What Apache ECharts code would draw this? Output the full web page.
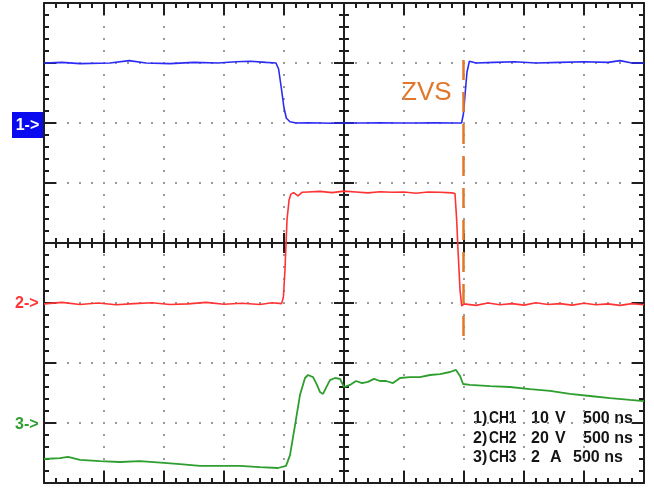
<!DOCTYPE html>
<html>
<head>
<meta charset="utf-8">
<script src="https://cdn.jsdelivr.net/npm/echarts@6/dist/echarts.min.js"></script>
<style>
  html, body { margin: 0; padding: 0; background: #fff; }
  #chart { width: 654px; height: 488px; }
</style>
</head>
<body>
<div id="chart"></div>
<script>
// Time base: 500 ns per division, 10 divisions across the screen
const timeTicks = [-2500, -2000, -1500, -1000, -500, 0, 500, 1000, 1500, 2000, 2500];

// Channel scales (units per division) and trace offsets (divisions from centre)
const channelNames = ['CH1', 'CH2', 'CH3'];
const channelScale = [10, 20, 2];
const channelUnit = ['V', 'V', 'A'];
const channelOffset = [2, -1, -3];
const timePerDiv = 500;

// CH1: gate-side voltage (V)
const ch1Time = [-2500, -2350, -2200, -1950, -1790, -1650, -1450, -1250, -1050, -900, -780, -650,
  -567, -545, -520, -500, -480, -450, -400, -300, -200, -100, 0, 150, 300, 450, 600, 750, 900, 980,
  995, 1010, 1025, 1045, 1060, 1100, 1250, 1420, 1600, 1800, 2000, 2200, 2300, 2400, 2500];
const ch1Volts = [10.0, 10.1, 9.9, 10.0, 10.4, 10.0, 9.9, 10.1, 10.0, 10.2, 10.3, 10.1,
  10.0, 9.0, 5.5, 2.5, 0.8, 0.2, 0.0, 0.05, 0.0, -0.05, 0.0, 0.0, 0.05, 0.0, 0.0, 0.05, 0.0, 0.0,
  1.5, 5.0, 8.5, 10.3, 10.2, 10.0, 10.1, 10.2, 10.0, 10.1, 10.2, 10.1, 10.4, 10.0, 10.0];

// CH2: switch-node voltage (V)
const ch2Time = [-2500, -2350, -2200, -2050, -1900, -1750, -1600, -1450, -1300, -1150, -1000, -850,
  -700, -600, -520, -505, -492, -475, -458, -442, -420, -383, -350, -300, -200, -100, 0, 100, 200,
  300, 400, 500, 600, 700, 800, 900, 925, 939, 950, 967, 981, 1000, 1100, 1200, 1300, 1400, 1500,
  1600, 1700, 1800, 1900, 2000, 2100, 2200, 2300, 2400, 2500];
const ch2Volts = [-0.3, 0.2, -0.5, 0.0, -0.6, -0.2, 0.1, -0.5, -0.3, 0.2, -0.4, -0.1,
  -0.5, 0.1, -0.2, 2.0, 11.0, 27.7, 34.3, 36.3, 36.8, 35.7, 36.9, 37.0, 37.2, 36.8, 37.3, 37.0, 36.7,
  37.1, 36.9, 37.0, 36.6, 37.0, 36.9, 36.7, 36.5, 27.7, 17.7, 4.3, -1.0, -0.3, -0.8, 0.0, -0.6, -0.2, -0.7,
  0.1, -0.5, -0.2, -0.7, -0.1, -0.6, -0.3, -0.8, -0.2, -0.6];

// CH3: inductor current (A)
const ch3Time = [-2500, -2367, -2300, -2200, -2033, -1867, -1700, -1500, -1367, -1200, -1033, -867,
  -700, -550, -483, -450, -408, -367, -325, -300, -258, -225, -200, -175, -150, -117, -75, -33, 0,
  50, 100, 150, 200, 250, 300, 350, 408, 467, 550, 633, 717, 800, 883, 933, 967, 992, 1050, 1217,
  1383, 1550, 1717, 1883, 2050, 2217, 2383, 2500];
const ch3Amps = [-1.20, -1.17, -1.13, -1.23, -1.27, -1.30, -1.27, -1.33, -1.37, -1.43, -1.43, -1.43,
  -1.47, -1.50, -1.43, -1.07, -0.07, 0.93, 1.50, 1.60, 1.53, 1.27, 1.03, 0.97, 1.17, 1.43, 1.50, 1.47, 1.20,
  1.27, 1.40, 1.33, 1.37, 1.47, 1.40, 1.40, 1.33, 1.50, 1.53, 1.53, 1.60, 1.63, 1.70, 1.77, 1.57, 1.30,
  1.27, 1.23, 1.20, 1.13, 1.07, 0.97, 0.90, 0.83, 0.77, 0.73];

// ZVS marker: time of the switching instant and its vertical span (divisions)
const zvsTime = 990;
const zvsSpan = [3.05, -1.62];

const traceColors = ['#2b2bf5', '#ff3333', '#2e9e2e'];
const frameColor = '#1e1e1e';

function toDivisions(times, values, ch) {
  return times.map((t, i) => [t, channelOffset[ch] + values[i] / channelScale[ch]]);
}

function frameAxis(extra) {
  const base = {
    type: 'value',
    axisLabel: { show: false },
    axisLine: { show: true, onZero: false, lineStyle: { color: frameColor, width: 2 } },
    axisTick: { show: true, inside: true, length: 12, lineStyle: { color: frameColor, width: 2 } },
    minorTick: { show: true, splitNumber: 5, length: 5, lineStyle: { color: frameColor, width: 2 } },
    splitLine: { show: false }
  };
  return Object.assign(base, extra);
}

function centreAxis(extra, inside) {
  return frameAxis(Object.assign({
    axisLine: { show: true, onZero: true, lineStyle: { color: frameColor, width: 2 } },
    axisTick: { show: true, inside: inside, length: 10, lineStyle: { color: frameColor, width: 2 } },
    minorTick: { show: true, splitNumber: 5, length: 5, lineStyle: { color: frameColor, width: 2 } }
  }, extra));
}

const dotted = { show: true, lineStyle: { color: '#9a9a9a', width: 2, type: [2, 10], dashOffset: 1 } };
const xRange = { min: timeTicks[0], max: timeTicks[timeTicks.length - 1], interval: timePerDiv };
const yRange = { min: -4, max: 4, interval: 1 };

const chart = echarts.init(document.getElementById('chart'), null, { renderer: 'canvas' });

const labelFont = { fontFamily: 'Liberation Sans, Arial, sans-serif', fontWeight: 'bold' };
const legendRows = [
  ['1)', channelNames[0], String(channelScale[0]), channelUnit[0], timePerDiv + ' ns'],
  ['2)', channelNames[1], String(channelScale[1]), channelUnit[1], timePerDiv + ' ns'],
  ['3)', channelNames[2], String(channelScale[2]), channelUnit[2], timePerDiv + ' ns']
];
const legendX = [[473, 489, 531, 555, 583], [473, 489, 531, 555, 583], [473, 489, 531, 550, 573]];
const legendY = [419, 439, 458];

const graphics = [
  { type: 'rect', shape: { x: 12, y: 112, width: 31, height: 26 }, style: { fill: '#0a0af0' } },
  { type: 'text', x: 27.5, y: 125.5, style: Object.assign({ text: '1->', fill: '#ffffff', fontSize: 16, align: 'center', verticalAlign: 'middle' }, labelFont) },
  { type: 'text', x: 15, y: 303.5, style: Object.assign({ text: '2->', fill: traceColors[1], fontSize: 16, align: 'left', verticalAlign: 'middle' }, labelFont) },
  { type: 'text', x: 15, y: 424.5, style: Object.assign({ text: '3->', fill: traceColors[2], fontSize: 16, align: 'left', verticalAlign: 'middle' }, labelFont) },
  { type: 'text', x: 401, y: 93, style: { text: 'ZVS', fill: '#e2772a', fontSize: 26, fontFamily: 'Liberation Sans, Arial, sans-serif', align: 'left', verticalAlign: 'middle' } }
];
legendRows.forEach((row, r) => {
  row.forEach((txt, c) => {
    graphics.push({
      type: 'text', x: legendX[r][c], y: legendY[r],
      scaleX: c === 1 ? 0.86 : 1,
      style: Object.assign({ text: txt, fill: '#151515', fontSize: 16, align: 'left', verticalAlign: 'middle' }, labelFont)
    });
  });
});

chart.setOption({
  animation: false,
  backgroundColor: '#ffffff',
  grid: { left: 44, top: 3, width: 600, height: 480, containLabel: false },
  xAxis: [
    frameAxis(Object.assign({ position: 'bottom', splitLine: dotted }, xRange)),
    frameAxis(Object.assign({ position: 'top' }, xRange)),
    centreAxis(Object.assign({ position: 'bottom' }, xRange), true),
    centreAxis(Object.assign({ position: 'bottom' }, xRange), false)
  ],
  yAxis: [
    frameAxis(Object.assign({ position: 'left', splitLine: dotted }, yRange)),
    frameAxis(Object.assign({ position: 'right' }, yRange)),
    centreAxis(Object.assign({ position: 'left' }, yRange), true),
    centreAxis(Object.assign({ position: 'left' }, yRange), false)
  ],
  graphic: graphics,
  series: [
    {
      name: channelNames[0], type: 'line', xAxisIndex: 0, yAxisIndex: 0,
      data: toDivisions(ch1Time, ch1Volts, 0), showSymbol: false, z: 3,
      lineStyle: { color: traceColors[0], width: 1.6 },
      markLine: {
        silent: true, symbol: ['none', 'none'], label: { show: false },
        lineStyle: { color: '#e2772a', width: 2.5, type: [20, 12] },
        data: [[{ coord: [zvsTime, zvsSpan[0]] }, { coord: [zvsTime, zvsSpan[1]] }]]
      }
    },
    {
      name: channelNames[1], type: 'line', xAxisIndex: 0, yAxisIndex: 0,
      data: toDivisions(ch2Time, ch2Volts, 1), showSymbol: false, z: 3,
      lineStyle: { color: traceColors[1], width: 1.6 }
    },
    {
      name: channelNames[2], type: 'line', xAxisIndex: 0, yAxisIndex: 0,
      data: toDivisions(ch3Time, ch3Amps, 2), showSymbol: false, z: 3,
      lineStyle: { color: traceColors[2], width: 1.8 }
    }
  ]
});
</script>
</body>
</html>
